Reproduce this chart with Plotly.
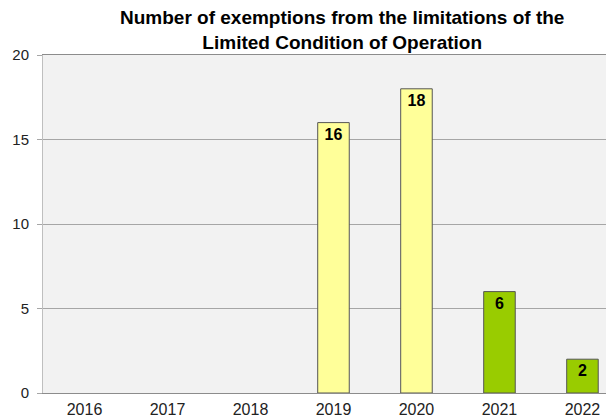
import plotly.graph_objects as go

years = ["2016", "2017", "2018", "2019", "2020", "2021", "2022"]
values = [None, None, None, 16, 18, 6, 2]
colors = ["#ffff99", "#ffff99", "#ffff99", "#ffff99", "#ffff99", "#99cc00", "#99cc00"]
labels = ["" if v is None else str(v) for v in values]
title = "Number of exemptions from the limitations of the<br>Limited Condition of Operation"

fig = go.Figure(go.Bar(
    x=years, y=values, width=0.38,
    marker=dict(color=colors, line=dict(color="#555555", width=1)),
    text=labels, textposition="inside", insidetextanchor="end",
    textangle=0,
    textfont=dict(family="Liberation Sans, Arial", size=16, color="black", weight="bold"),
    cliponaxis=False,
))

fig.update_layout(
    width=606, height=410,
    margin=dict(l=35, r=0, t=47, b=25, autoexpand=False),
    paper_bgcolor="white", plot_bgcolor="#f2f2f2",
    font=dict(family="Liberation Sans, Arial", size=14, color="#222222"),
    showlegend=False,
    annotations=[dict(text="<b>" + title + "</b>", xref="paper", yref="paper",
                      x=0.524, y=1.0, yshift=0, xanchor="center", yanchor="bottom",
                      showarrow=False, font=dict(size=19, color="black"))],
)
fig.update_xaxes(type="category", range=[-0.5, 6.38], showgrid=False, showline=True,
                 mirror=True, linecolor="#8c8c8c", linewidth=1,
                 ticks="", tickfont=dict(size=16), automargin=False, ticklabelstandoff=2)
fig.update_yaxes(range=[0, 20], dtick=5, showgrid=True, gridcolor="#a6a6a6", gridwidth=1,
                 zeroline=False, showline=True, linecolor="#bfbfbf",
                 ticks="outside", ticklen=5, tickcolor="#a6a6a6", tickfont=dict(size=15),
                 automargin=False, ticklabelstandoff=5)

fig.write_html("out.html")
